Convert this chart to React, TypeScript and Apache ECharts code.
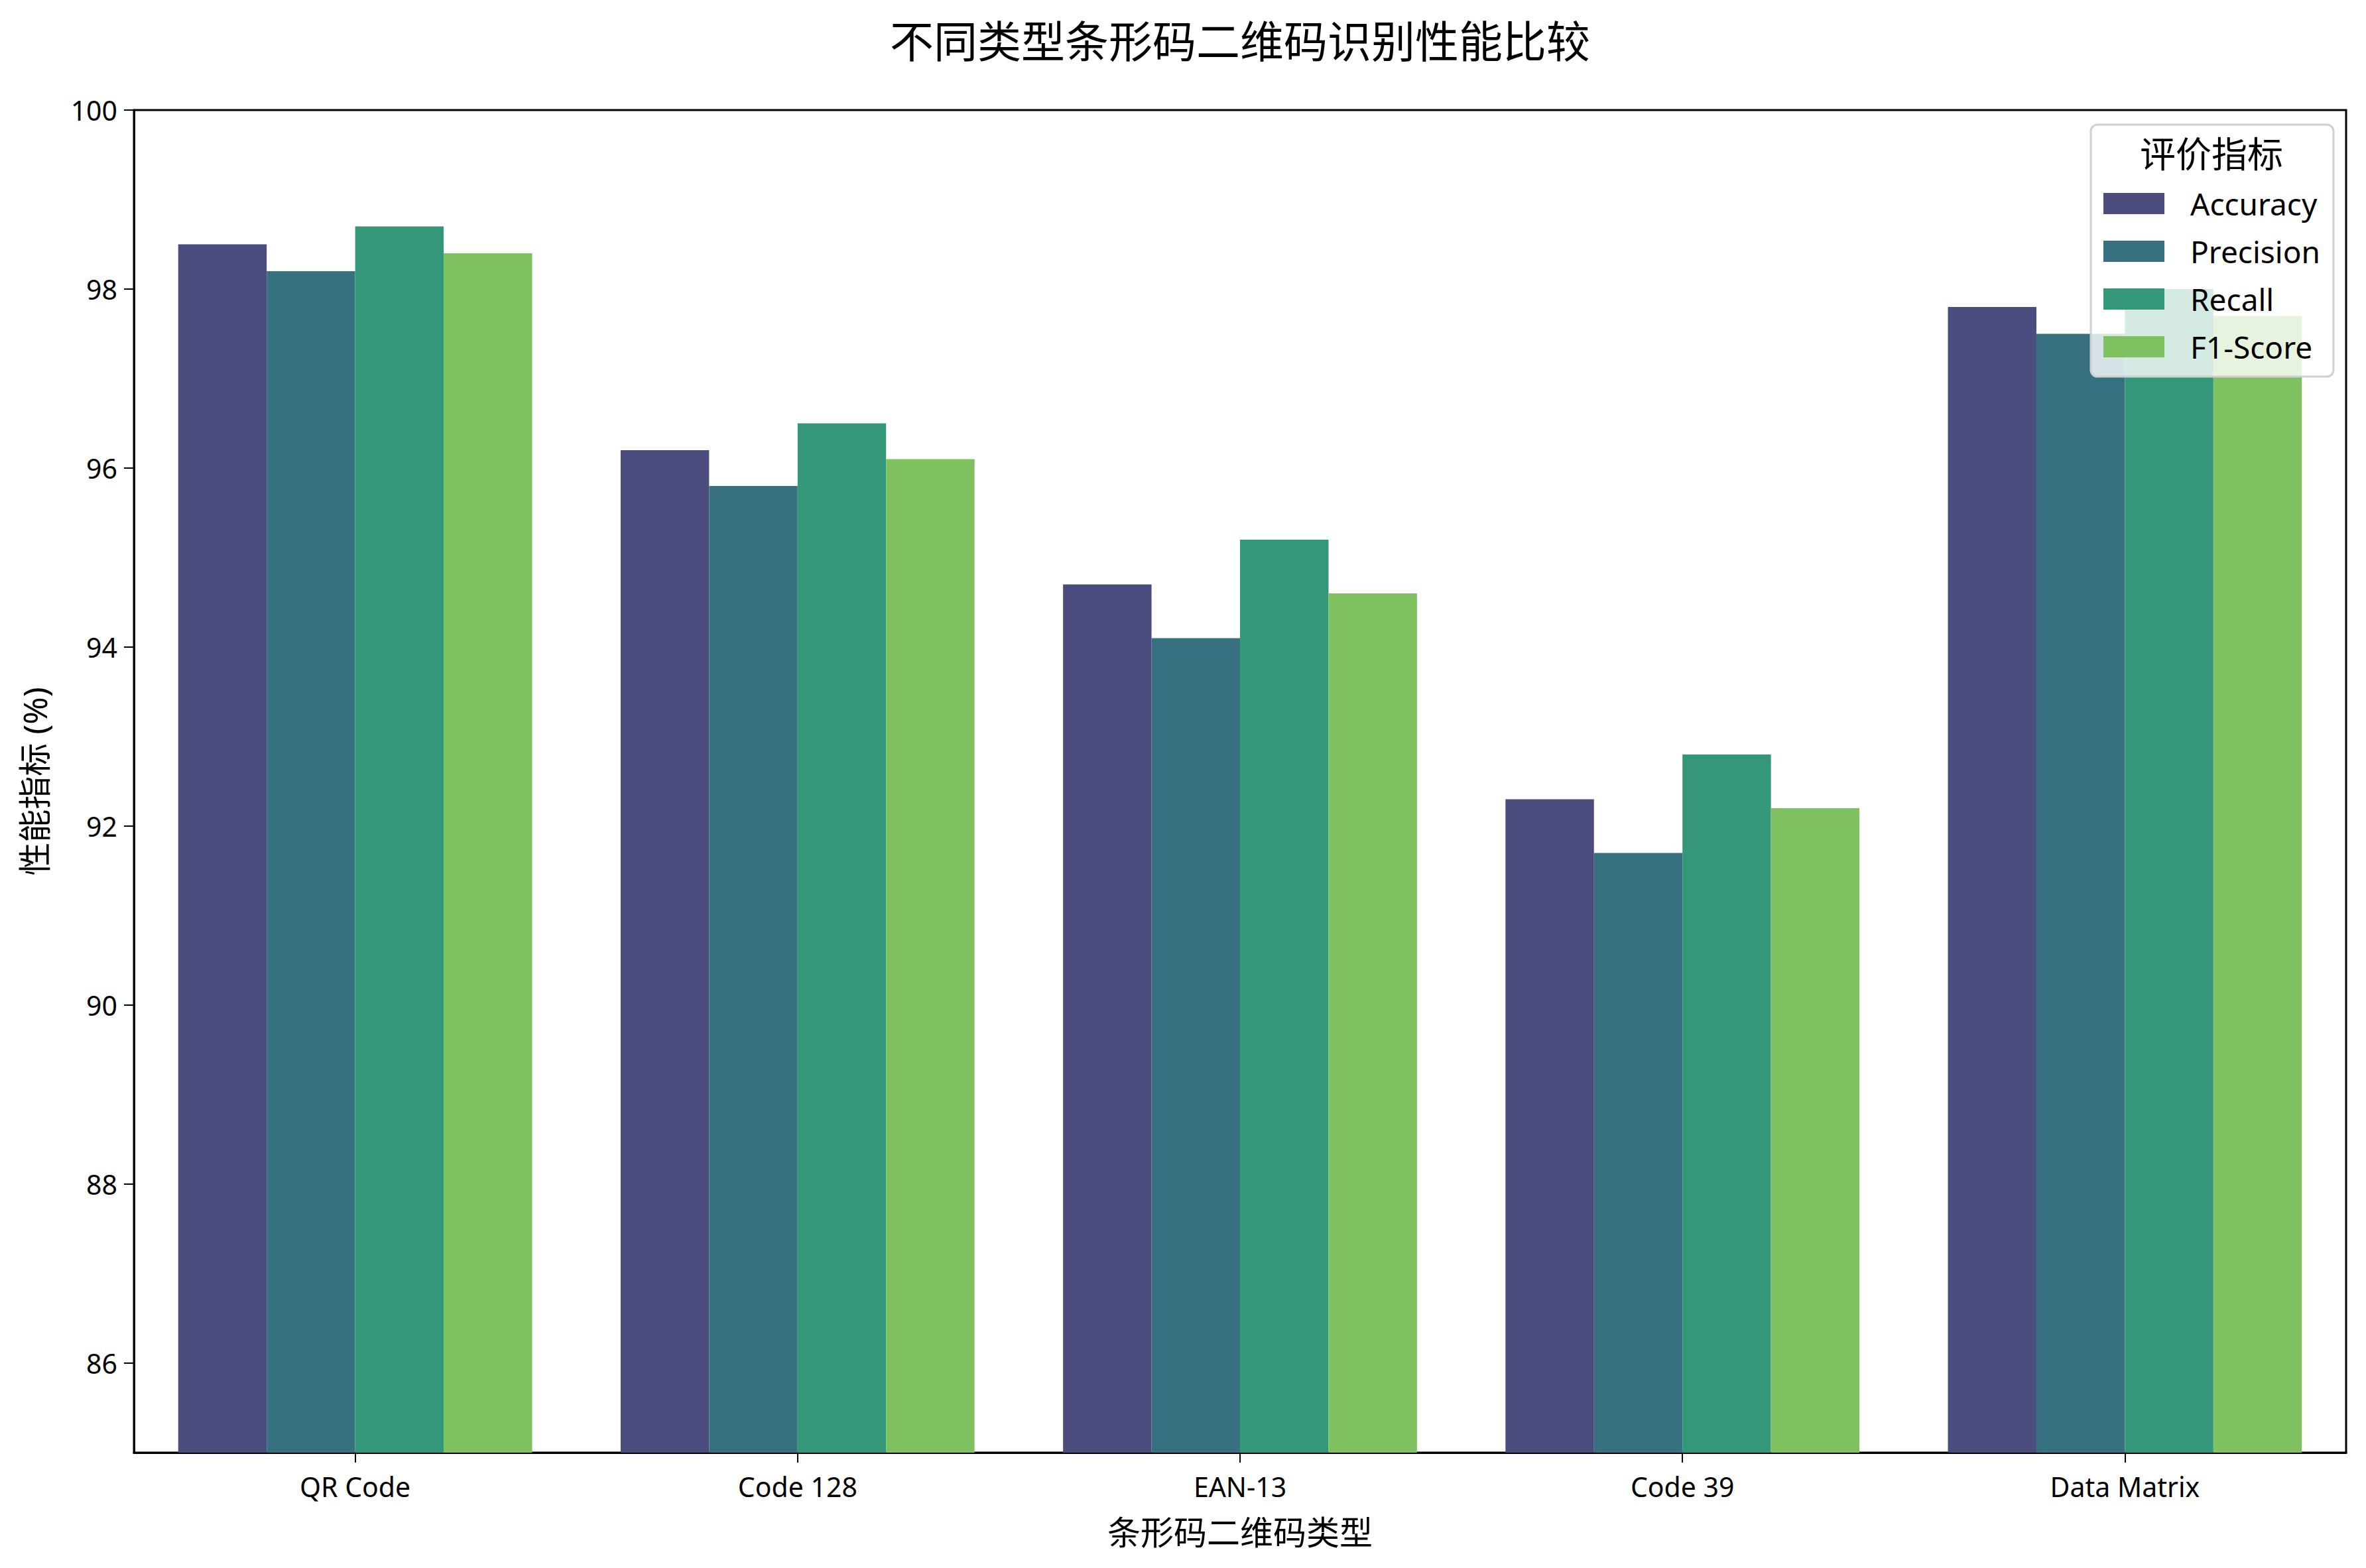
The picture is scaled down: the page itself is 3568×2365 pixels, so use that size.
import React, { useEffect, useRef } from "react";
import * as echarts from "echarts";

const categories = ["QR Code", "Code 128", "EAN-13", "Code 39", "Data Matrix"];
const seriesNames = ["Accuracy", "Precision", "Recall", "F1-Score"];
const accuracy = [98.5, 96.2, 94.7, 92.3, 97.8];
const precision = [98.2, 95.8, 94.1, 91.7, 97.5];
const recall = [98.7, 96.5, 95.2, 92.8, 98.0];
const f1Score = [98.4, 96.1, 94.6, 92.2, 97.7];
const yTicks = [86, 88, 90, 92, 94, 96, 98, 100];
const colors = ["#4A4C7D", "#37707F", "#34977A", "#7FC160"];

const FONT = "'Noto Sans', 'Noto Sans CJK SC', sans-serif";

export default function App() {
  const ref = useRef<HTMLDivElement>(null);
  useEffect(() => {
    if (!ref.current) return;
    const chart = echarts.init(ref.current, undefined, { renderer: "svg" });
    const values = [accuracy, precision, recall, f1Score];
    chart.setOption({
      animation: false,
      backgroundColor: "#ffffff",
      textStyle: { fontFamily: FONT },
      grid: {
        left: 202,
        right: 30,
        top: 166,
        bottom: 174,
        show: true,
        borderColor: "#000",
        borderWidth: 3,
        backgroundColor: "transparent",
      },
      graphic: [
        {
          type: "text",
          x: 1870,
          y: 61,
          z: 100,
          style: {
            text: "不同类型条形码二维码识别性能比较",
            fontFamily: FONT,
            fontSize: 66,
            fill: "#000",
            align: "center",
            verticalAlign: "middle",
          },
        },
        {
          type: "text",
          x: 3335,
          y: 232,
          z: 100,
          style: {
            text: "评价指标",
            fontFamily: FONT,
            fontSize: 54,
            fill: "#000",
            align: "center",
            verticalAlign: "middle",
          },
        },
      ],
      legend: {
        data: seriesNames,
        orient: "vertical",
        left: 3153,
        top: 188,
        padding: [96, 20, 22, 19],
        itemWidth: 92,
        itemHeight: 32,
        itemGap: 26,
        icon: "rect",
        backgroundColor: "rgba(255,255,255,0.8)",
        borderColor: "#d0d0d0",
        borderWidth: 3,
        borderRadius: 10,
        z: 50,
        textStyle: {
          fontFamily: FONT,
          fontSize: 46,
          color: "#000",
          padding: [0, 0, 0, 34],
        },
      },
      xAxis: {
        type: "category",
        data: categories,
        name: "条形码二维码类型",
        nameLocation: "middle",
        nameGap: 95,
        nameTextStyle: { fontFamily: FONT, fontSize: 50, color: "#000" },
        axisLine: { show: true, lineStyle: { color: "#000", width: 3 } },
        axisTick: { show: true, alignWithLabel: true, length: 15, lineStyle: { color: "#000", width: 2 } },
        axisLabel: { fontFamily: FONT, fontSize: 41, color: "#000", margin: 30 },
        splitLine: { show: false },
      },
      yAxis: {
        type: "value",
        min: 85,
        max: 100,
        name: "性能指标 (%)",
        nameLocation: "middle",
        nameGap: 125,
        nameRotate: 90,
        nameTextStyle: { fontFamily: FONT, fontSize: 50, color: "#000" },
        axisLine: { show: true, lineStyle: { color: "#000", width: 3 } },
        axisTick: { show: true, length: 15, customValues: yTicks, lineStyle: { color: "#000", width: 2 } },
        axisLabel: { fontFamily: FONT, fontSize: 41, color: "#000", margin: 25, customValues: yTicks },
        splitLine: { show: false },
      },
      series: seriesNames.map((name, i) => ({
        name,
        type: "bar",
        data: values[i],
        barGap: "0%",
        barCategoryGap: "20%",
        itemStyle: { color: colors[i] },
        z: 2,
      })),
    });
    return () => chart.dispose();
  }, []);
  return (
    <div
      ref={ref}
      style={{ position: "fixed", left: 0, top: 0, width: 3568, height: 2365 }}
    />
  );
}
